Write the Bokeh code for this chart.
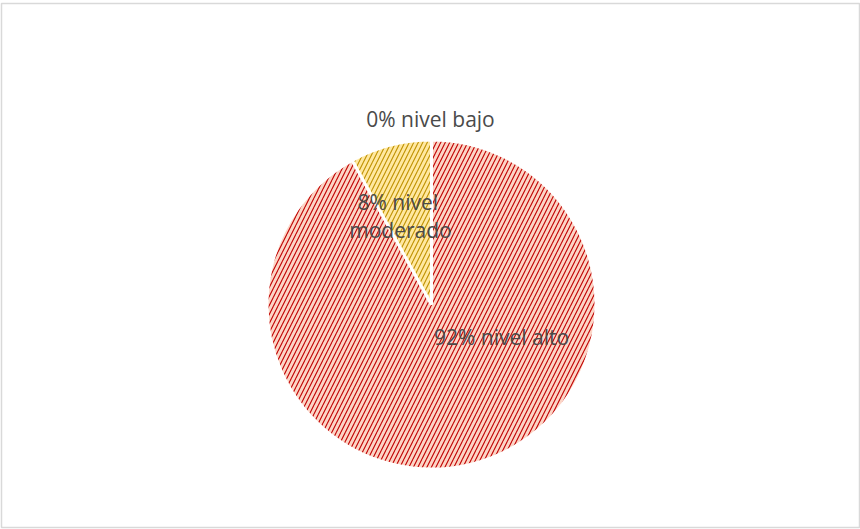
import math
from bokeh.plotting import figure
from bokeh.models import Range1d, ColumnDataSource
from bokeh.core.properties import value
from bokeh.embed import file_html
from bokeh.resources import INLINE

# data
categories = ["nivel alto", "nivel moderado", "nivel bajo"]
percents = [92, 8, 0]
label_texts = ["92% nivel alto", "8%  nivel\nmoderado", "0% nivel bajo"]

fill_colors = ["#FCD5C6", "#FFE8A0", "#E0E0E0"]
hatch_colors = ["#C00000", "#BF9000", "#808080"]

R = 164.5
start, ends, starts = math.pi / 2, [], []
cur = start
for v in percents:
    starts.append(cur)
    cur = cur - v / 100 * 2 * math.pi
    ends.append(cur)

p = figure(width=860, height=529, output_backend="svg", toolbar_location=None,
           x_range=Range1d(-430, 428), y_range=Range1d(-223, 301),
           min_border_left=1, min_border_right=1, min_border_top=3, min_border_bottom=2)
p.outline_line_color = "#D9D9D9"
p.outline_line_width = 1.5
p.axis.visible = False
p.grid.visible = False
p.background_fill_color = "white"
p.border_fill_color = "white"

nz = [i for i, v in enumerate(percents) if v > 0]
src_nz = ColumnDataSource(dict(start=[ends[i] for i in nz], end=[starts[i] for i in nz],
                               fill=[fill_colors[i] for i in nz], hatch=[hatch_colors[i] for i in nz]))
p.wedge(x=0, y=0, radius=R, start_angle="start", end_angle="end", source=src_nz,
        fill_color="fill", hatch_pattern="/", hatch_color="hatch", hatch_scale=9,
        hatch_weight=1.1, line_color="white", line_width=3)

# label placement (layout offsets relative to pie centre, in pixels)
lab_x = [70, -31, -1]
lab_y = [-32, 89, 186]
p.text(x=lab_x, y=lab_y, text=label_texts, text_align="center", text_baseline="middle",
       text_font=value("Open Sans"), text_font_size="21px", text_color="#4A4A4A",
       text_line_height=1.0)

open("out.html", "w").write(file_html(p, INLINE))
